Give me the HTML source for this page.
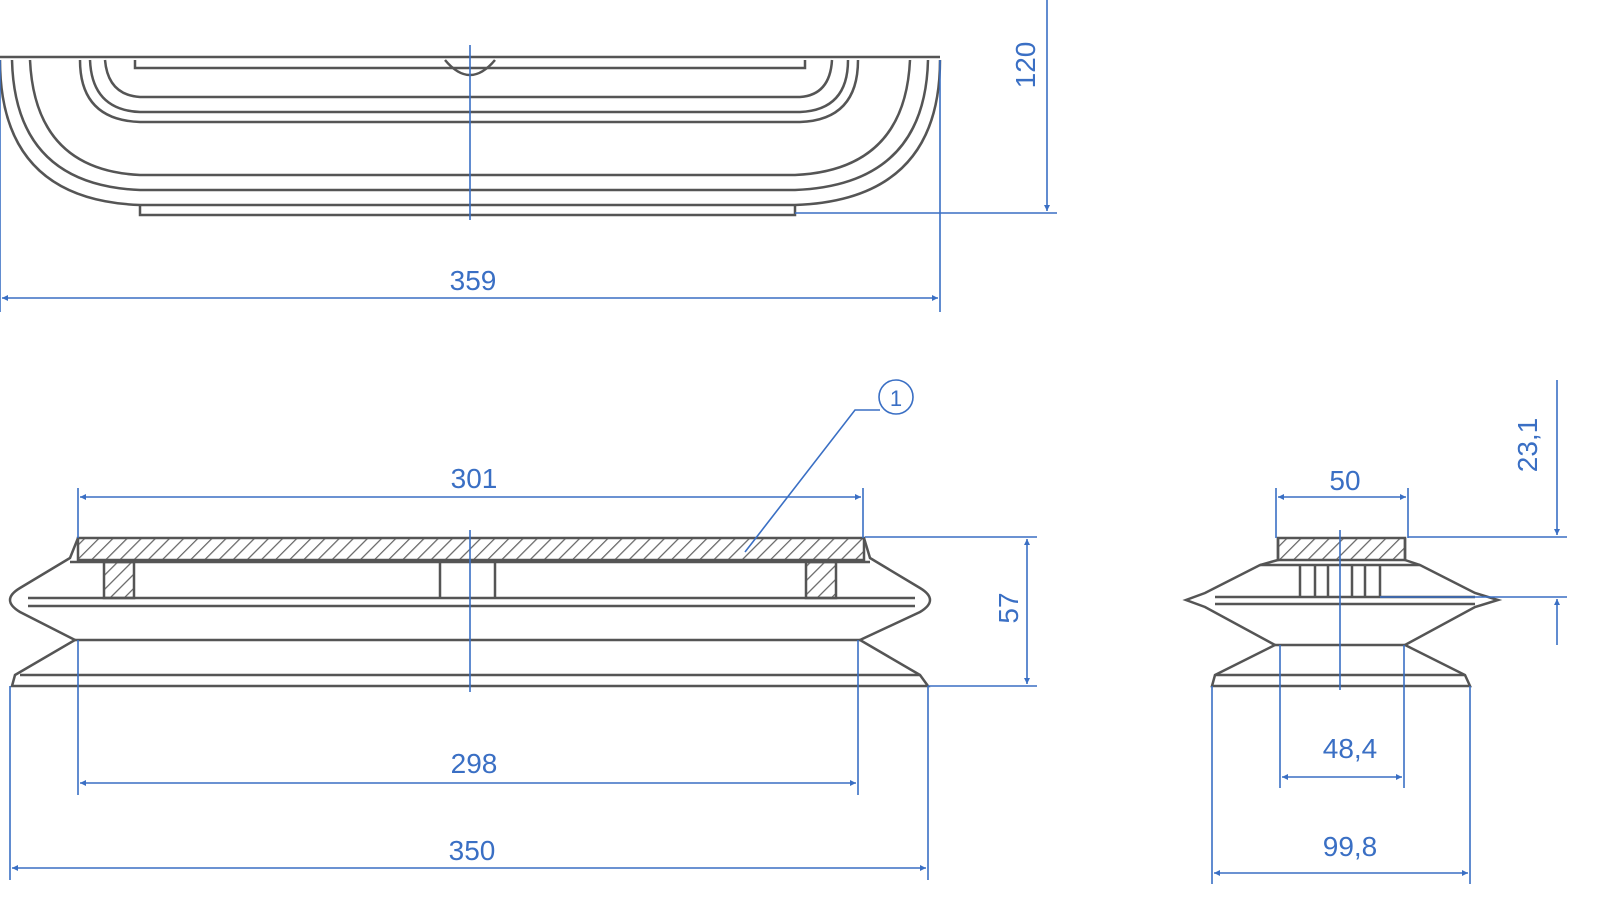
<!DOCTYPE html>
<html><head><style>body{margin:0;background:#fff}svg{display:block}text{font-family:"Liberation Sans",sans-serif;font-size:28px;fill:#3a6fc4}</style></head><body>
<svg width="1600" height="906" viewBox="0 0 1600 906" xmlns="http://www.w3.org/2000/svg">
<defs>
<pattern id="h" width="10" height="10" patternUnits="userSpaceOnUse" patternTransform="rotate(45)"><line x1="0" y1="0" x2="0" y2="10" stroke="#666" stroke-width="2.5"/></pattern>
<marker id="a" viewBox="0 0 10 10" refX="10" refY="5" markerWidth="14" markerHeight="6" orient="auto-start-reverse" markerUnits="userSpaceOnUse"><path d="M0,0L10,5L0,10z" fill="#3a6fc4"/></marker>
</defs>
<g fill="none" stroke="#555" stroke-width="2.5">
<!-- top view -->
<path d="M0,57 H940"/>
<path d="M0,60 Q0,200 140,205 H795 Q940,200 940,60"/>
<path d="M12,60 Q15,185 140,190 H795 Q925,185 928,60"/>
<path d="M30,60 Q35,170 140,175 H795 Q905,170 910,60"/>
<path d="M140,205 V215 H795 V205"/>
<path d="M80,60 Q80,120 140,122 H800 Q858,120 858,60"/>
<path d="M90,60 Q92,110 140,112 H800 Q848,110 848,60"/>
<path d="M105,60 Q108,95 140,97 H800 Q830,95 832,60"/>
<path d="M135,60 V68 H805 V60"/>
<path d="M445,60 Q470,90 495,60"/>
<!-- bellows left view -->
<rect x="78" y="538" width="786" height="22" fill="url(#h)"/>
<path d="M78,538 L70,558 L20,588 Q0,600 20,612 L75,640 L15,675 L12,686 H928 L920,675 L860,640 L920,612 Q940,600 920,588 L870,558 L864,538"/>
<path d="M70,562 H870 M28,598 H915 M28,606 H915 M75,640 H860 M20,675 H920"/>
<rect x="104" y="562" width="30" height="36" fill="url(#h)"/>
<rect x="806" y="562" width="30" height="36" fill="url(#h)"/>
<path d="M440,562 V598 M495,562 V598"/>
<!-- small view -->
<rect x="1278" y="538" width="127" height="22" fill="url(#h)"/>
<path d="M1278,538 V560 L1260,565 L1205,593 L1186,600 L1205,607 L1275,645 L1215,675 L1212,686 H1470 L1465,675 L1405,645 L1475,607 L1498,600 L1475,593 L1420,565 L1405,560 V538"/>
<path d="M1260,565 H1420 M1215,597 H1475 M1215,604 H1475 M1275,645 H1405 M1215,675 H1465"/>
<path d="M1300,565 V597 M1315,565 V597 M1328,565 V597 M1352,565 V597 M1365,565 V597 M1380,565 V597"/>
</g>
<g fill="none" stroke="#3a6fc4" stroke-width="1.6">
<path d="M470,45 V220 M470,530 V692 M1340,530 V690"/>
<path d="M0,60 V312 M940,60 V312"/>
<line x1="2" y1="298" x2="938" y2="298" marker-start="url(#a)" marker-end="url(#a)"/>
<path d="M795,213 H1057"/>
<line x1="1047" y1="0" x2="1047" y2="211" marker-end="url(#a)"/>
<path d="M78,488 V538 M863,488 V538"/>
<line x1="80" y1="497" x2="861" y2="497" marker-start="url(#a)" marker-end="url(#a)"/>
<path d="M78,640 V795 M858,640 V795"/>
<line x1="80" y1="783" x2="856" y2="783" marker-start="url(#a)" marker-end="url(#a)"/>
<path d="M10,686 V880 M928,686 V880"/>
<line x1="12" y1="868" x2="926" y2="868" marker-start="url(#a)" marker-end="url(#a)"/>
<path d="M865,537 H1037 M928,686 H1037"/>
<line x1="1027" y1="539" x2="1027" y2="684" marker-start="url(#a)" marker-end="url(#a)"/>
<circle cx="896" cy="397" r="17"/>
<path d="M880,410 H855 L745,552"/>
<path d="M1276,488 V538 M1408,488 V538"/>
<line x1="1278" y1="497" x2="1406" y2="497" marker-start="url(#a)" marker-end="url(#a)"/>
<path d="M1280,645 V788 M1404,645 V788"/>
<line x1="1282" y1="777" x2="1402" y2="777" marker-start="url(#a)" marker-end="url(#a)"/>
<path d="M1212,686 V884 M1470,686 V884"/>
<line x1="1214" y1="873" x2="1468" y2="873" marker-start="url(#a)" marker-end="url(#a)"/>
<path d="M1408,537 H1567 M1380,597 H1567"/>
<line x1="1557" y1="380" x2="1557" y2="535" marker-end="url(#a)"/>
<line x1="1557" y1="645" x2="1557" y2="599" marker-end="url(#a)"/>
</g>
<text x="473" y="290" text-anchor="middle">359</text>
<text transform="translate(1035,65) rotate(-90)" text-anchor="middle">120</text>
<text x="474" y="488" text-anchor="middle">301</text>
<text x="474" y="773" text-anchor="middle">298</text>
<text x="472" y="860" text-anchor="middle">350</text>
<text transform="translate(1018,608) rotate(-90)" text-anchor="middle">57</text>
<text x="896" y="406" text-anchor="middle" style="font-size:22px">1</text>
<text x="1345" y="490" text-anchor="middle">50</text>
<text x="1350" y="758" text-anchor="middle">48,4</text>
<text x="1350" y="856" text-anchor="middle">99,8</text>
<text transform="translate(1537,445) rotate(-90)" text-anchor="middle">23,1</text>
</svg>
</body></html>
